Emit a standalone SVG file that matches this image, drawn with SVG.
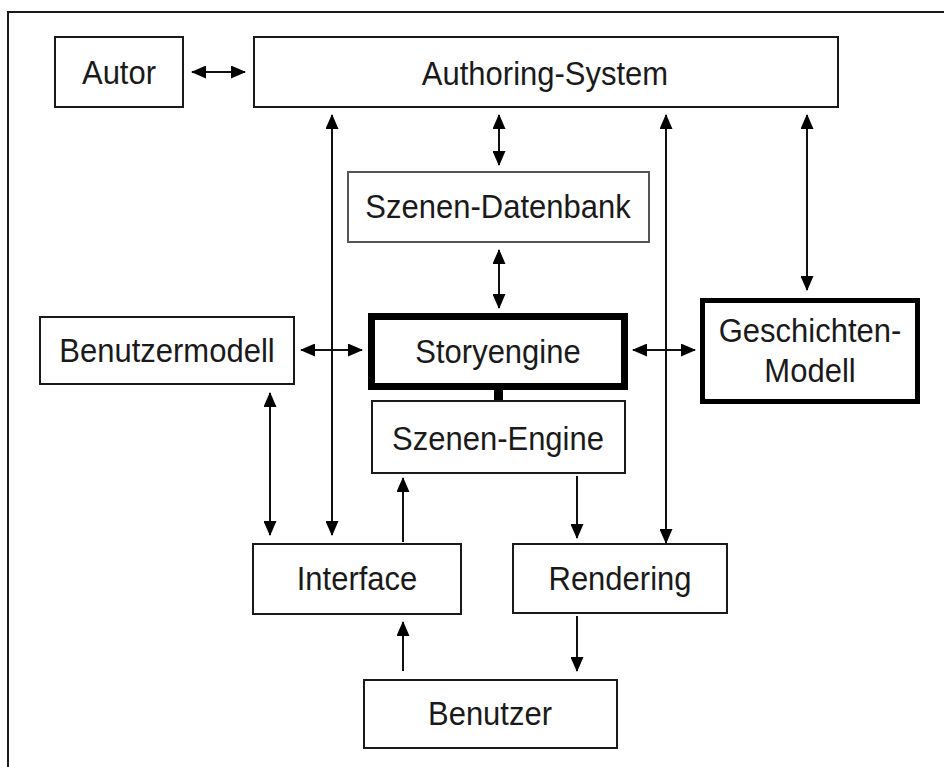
<svg xmlns="http://www.w3.org/2000/svg" width="944" height="767" viewBox="0 0 944 767">
<style>
.box{fill:#fff;stroke:#1a1a1a;stroke-width:2}
.gray{stroke:#555}
.thick{stroke:#000;stroke-width:7}
.thick5{stroke:#000;stroke-width:5}
text{font-family:"Liberation Sans",Arial,sans-serif;font-size:31px;fill:#1a1a1a;text-anchor:middle}
.c{fill:none;stroke:#111;stroke-width:2}
</style>
<defs>
<marker id="ah" viewBox="0 0 15 13" refX="14" refY="6.5" markerWidth="15" markerHeight="13" markerUnits="userSpaceOnUse" orient="auto-start-reverse">
<path d="M0,0 L15,6.5 L0,13 Z" fill="#000"/>
</marker>
</defs>
<rect x="8" y="12" width="1000" height="800" fill="#fff" stroke="#1a1a1a" stroke-width="2"/>
<g id="connectors">
<line class="c" x1="192" y1="72" x2="245" y2="72" marker-start="url(#ah)" marker-end="url(#ah)"/>
<line class="c" x1="332" y1="115" x2="332" y2="535" marker-start="url(#ah)" marker-end="url(#ah)"/>
<line class="c" x1="499" y1="115" x2="499" y2="165" marker-start="url(#ah)" marker-end="url(#ah)"/>
<line class="c" x1="499" y1="250" x2="499" y2="308" marker-start="url(#ah)" marker-end="url(#ah)"/>
<line class="c" x1="666" y1="115" x2="666" y2="543" marker-start="url(#ah)" marker-end="url(#ah)"/>
<line class="c" x1="807" y1="115" x2="807" y2="290" marker-start="url(#ah)" marker-end="url(#ah)"/>
<line class="c" x1="301" y1="350" x2="362" y2="350" marker-start="url(#ah)" marker-end="url(#ah)"/>
<line class="c" x1="633" y1="350" x2="695" y2="350" marker-start="url(#ah)" marker-end="url(#ah)"/>
<line class="c" x1="270" y1="393" x2="270" y2="535" marker-start="url(#ah)" marker-end="url(#ah)"/>
<line class="c" x1="403" y1="542" x2="403" y2="478" marker-end="url(#ah)"/>
<line class="c" x1="577" y1="476" x2="577" y2="538" marker-end="url(#ah)"/>
<line class="c" x1="577" y1="616" x2="577" y2="671" marker-end="url(#ah)"/>
<line class="c" x1="403" y1="671" x2="403" y2="622" marker-end="url(#ah)"/>
<rect x="494" y="388" width="9" height="14" fill="#000"/>
</g>
<g id="autor"><rect class="box" x="55" y="37" width="128" height="70"/><text transform="translate(119 84) scale(1 1.1)">Autor</text></g>
<g id="authoring-system"><rect class="box" x="254" y="37" width="584" height="70"/><text transform="translate(545 85) scale(1 1.1)">Authoring-System</text></g>
<g id="szenen-datenbank"><rect class="box gray" x="348" y="172" width="301" height="70"/><text transform="translate(498 218) scale(1 1.1)">Szenen-Datenbank</text></g>
<g id="storyengine"><rect class="box thick" x="371.5" y="316.5" width="253" height="70"/><text transform="translate(498 363) scale(1 1.1)">Storyengine</text></g>
<g id="geschichten-modell"><rect class="box thick5" x="702.5" y="300.5" width="215" height="101"/><text transform="translate(810 342) scale(1 1.1)">Geschichten-</text><text transform="translate(810 382) scale(1 1.1)">Modell</text></g>
<g id="benutzermodell"><rect class="box" x="40" y="317" width="254" height="67"/><text transform="translate(167 362) scale(1 1.1)">Benutzermodell</text></g>
<g id="szenen-engine"><rect class="box" x="372" y="401" width="253" height="72"/><text transform="translate(498 450) scale(1 1.1)">Szenen-Engine</text></g>
<g id="interface"><rect class="box" x="253" y="544" width="208" height="70"/><text transform="translate(357 590) scale(1 1.1)">Interface</text></g>
<g id="rendering"><rect class="box" x="513" y="544" width="214" height="69"/><text transform="translate(620 590) scale(1 1.1)">Rendering</text></g>
<g id="benutzer"><rect class="box" x="364" y="680" width="253" height="68"/><text transform="translate(490 725) scale(1 1.1)">Benutzer</text></g>
</svg>
